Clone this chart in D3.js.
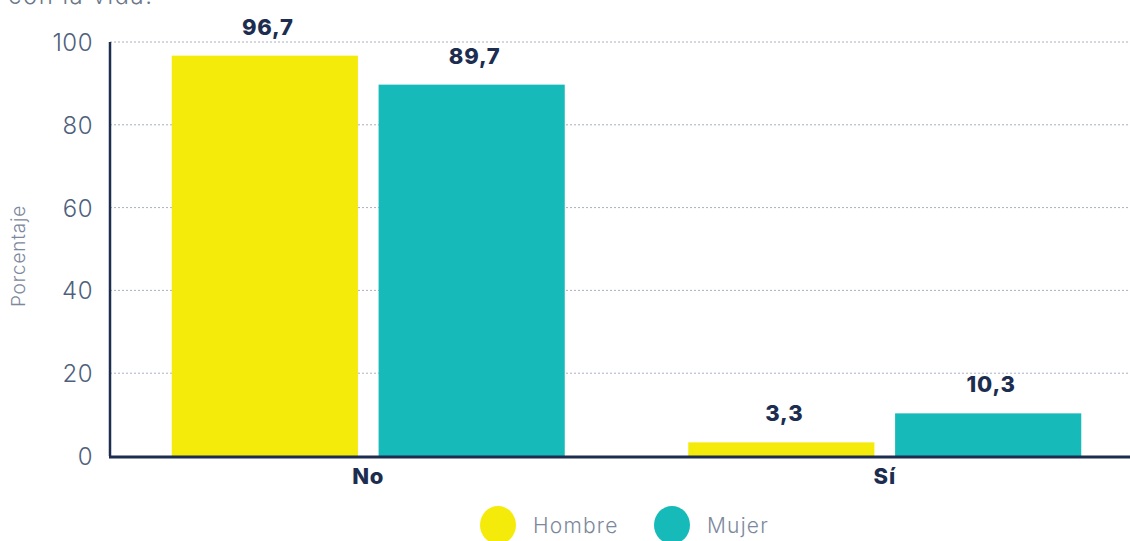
<!DOCTYPE html>
<html>
<head>
<meta charset="utf-8">
<script src="https://cdn.jsdelivr.net/npm/d3@7"></script>
<style>
  body { margin: 0; background: #fff; }
  text { font-family: "Inter", "Noto Sans", sans-serif; }
</style>
</head>
<body>
<div id="chart"></div>
<script>
const categories = ["No", "Sí"];
const seriesNames = ["Hombre", "Mujer"];
const hombre = [96.7, 3.3];
const mujer = [89.7, 10.3];
const yTicks = [0, 20, 40, 60, 80, 100];

function main() {
    const width = 1130, height = 541;
    const colors = {Hombre: "#f5eb0a", Mujer: "#16bbb9"};
    const navy = "#1c2d50";

    const svg = d3.select("#chart").append("svg")
        .attr("width", width)
        .attr("height", height)

    var x = d3.scaleBand().domain(categories).range([110, 1143]).padding(0)
    var xInner = d3.scaleBand().domain(seriesNames).range([0, 393]).paddingInner(0.1)
    var y = d3.scaleLinear().domain([0, 100]).range([456, 42])

    // title fragment cut at the top
    svg.append("text")
        .attr("x", 8).attr("y", 4)
        .text("con la vida.")
        .style("font-size", "24px")
        .style("font-weight", 300)
        .style("letter-spacing", "1.5px")
        .attr("fill", "#6b778c")

    // grid lines
    svg.selectAll(".grid")
        .data(yTicks.filter(d => d > 0))
        .enter().append("line")
        .attr("x1", 110).attr("x2", width)
        .attr("y1", d => y(d)).attr("y2", d => y(d))
        .attr("stroke", "#a7b0bd")
        .attr("stroke-width", 1)
        .attr("stroke-dasharray", "2,2")

    // y tick labels
    svg.selectAll(".ytick")
        .data(yTicks)
        .enter().append("text")
        .attr("x", 93).attr("y", d => y(d) + 9)
        .attr("text-anchor", "end")
        .style("font-size", "24px")
        .style("font-weight", 300)
        .style("letter-spacing", "0.5px")
        .attr("fill", "#4f5f7c")
        .text(d => d)

    svg.append("text")
        .attr("transform", "translate(25,256) rotate(-90)")
        .attr("text-anchor", "middle")
        .style("font-size", "19px")
        .style("font-weight", 300)
        .style("letter-spacing", "0.8px")
        .attr("fill", "#7d889c")
        .text("Porcentaje")

    var rows = [];
    categories.forEach(function (c, i) {
        rows.push({cat: c, s: "Hombre", v: hombre[i]});
        rows.push({cat: c, s: "Mujer", v: mujer[i]});
    });

    var bx = d => x(d.cat) + (x.bandwidth() - 393) / 2 + xInner(d.s);

    svg.selectAll(".bar")
        .data(rows)
        .enter().append("rect")
        .attr("x", bx)
        .attr("y", d => y(d.v))
        .attr("width", xInner.bandwidth())
        .attr("height", d => y(0) - y(d.v))
        .attr("fill", d => colors[d.s])

    svg.selectAll(".val")
        .data(rows)
        .enter().append("text")
        .attr("x", d => bx(d) + xInner.bandwidth() / 2 + 3)
        .attr("y", d => y(d.v) - 21)
        .attr("text-anchor", "middle")
        .style("font-size", "22px")
        .style("font-weight", 800)
        .style("letter-spacing", "0.8px")
        .attr("fill", navy)
        .text(d => String(d.v).replace(".", ","))

    // axes lines
    svg.append("line")
        .attr("x1", 110).attr("x2", 110)
        .attr("y1", y(100)).attr("y2", y(0))
        .attr("stroke", navy).attr("stroke-width", 2.5)
    svg.append("line")
        .attr("x1", 109).attr("x2", width)
        .attr("y1", y(0) + 1).attr("y2", y(0) + 1)
        .attr("stroke", navy).attr("stroke-width", 3)

    svg.selectAll(".cat")
        .data(categories)
        .enter().append("text")
        .attr("x", d => x(d) + x.bandwidth() / 2)
        .attr("y", 484)
        .attr("text-anchor", "middle")
        .style("font-size", "22px")
        .style("font-weight", 800)
        .style("letter-spacing", "0.8px")
        .attr("fill", navy)
        .text(d => d)

    // legend
    var legX = [498, 672];
    var leg = svg.selectAll(".leg")
        .data(seriesNames)
        .enter().append("g")
        .attr("transform", (d, i) => "translate(" + legX[i] + ",525)")
    leg.append("ellipse")
        .attr("rx", 18).attr("ry", 19)
        .attr("fill", d => colors[d])
    leg.append("text")
        .attr("x", 35).attr("y", 8)
        .style("font-size", "21px")
        .style("font-weight", 300)
        .style("letter-spacing", "1.2px")
        .attr("fill", "#7d889c")
        .text(d => d)
}
main();
</script>
</body>
</html>
